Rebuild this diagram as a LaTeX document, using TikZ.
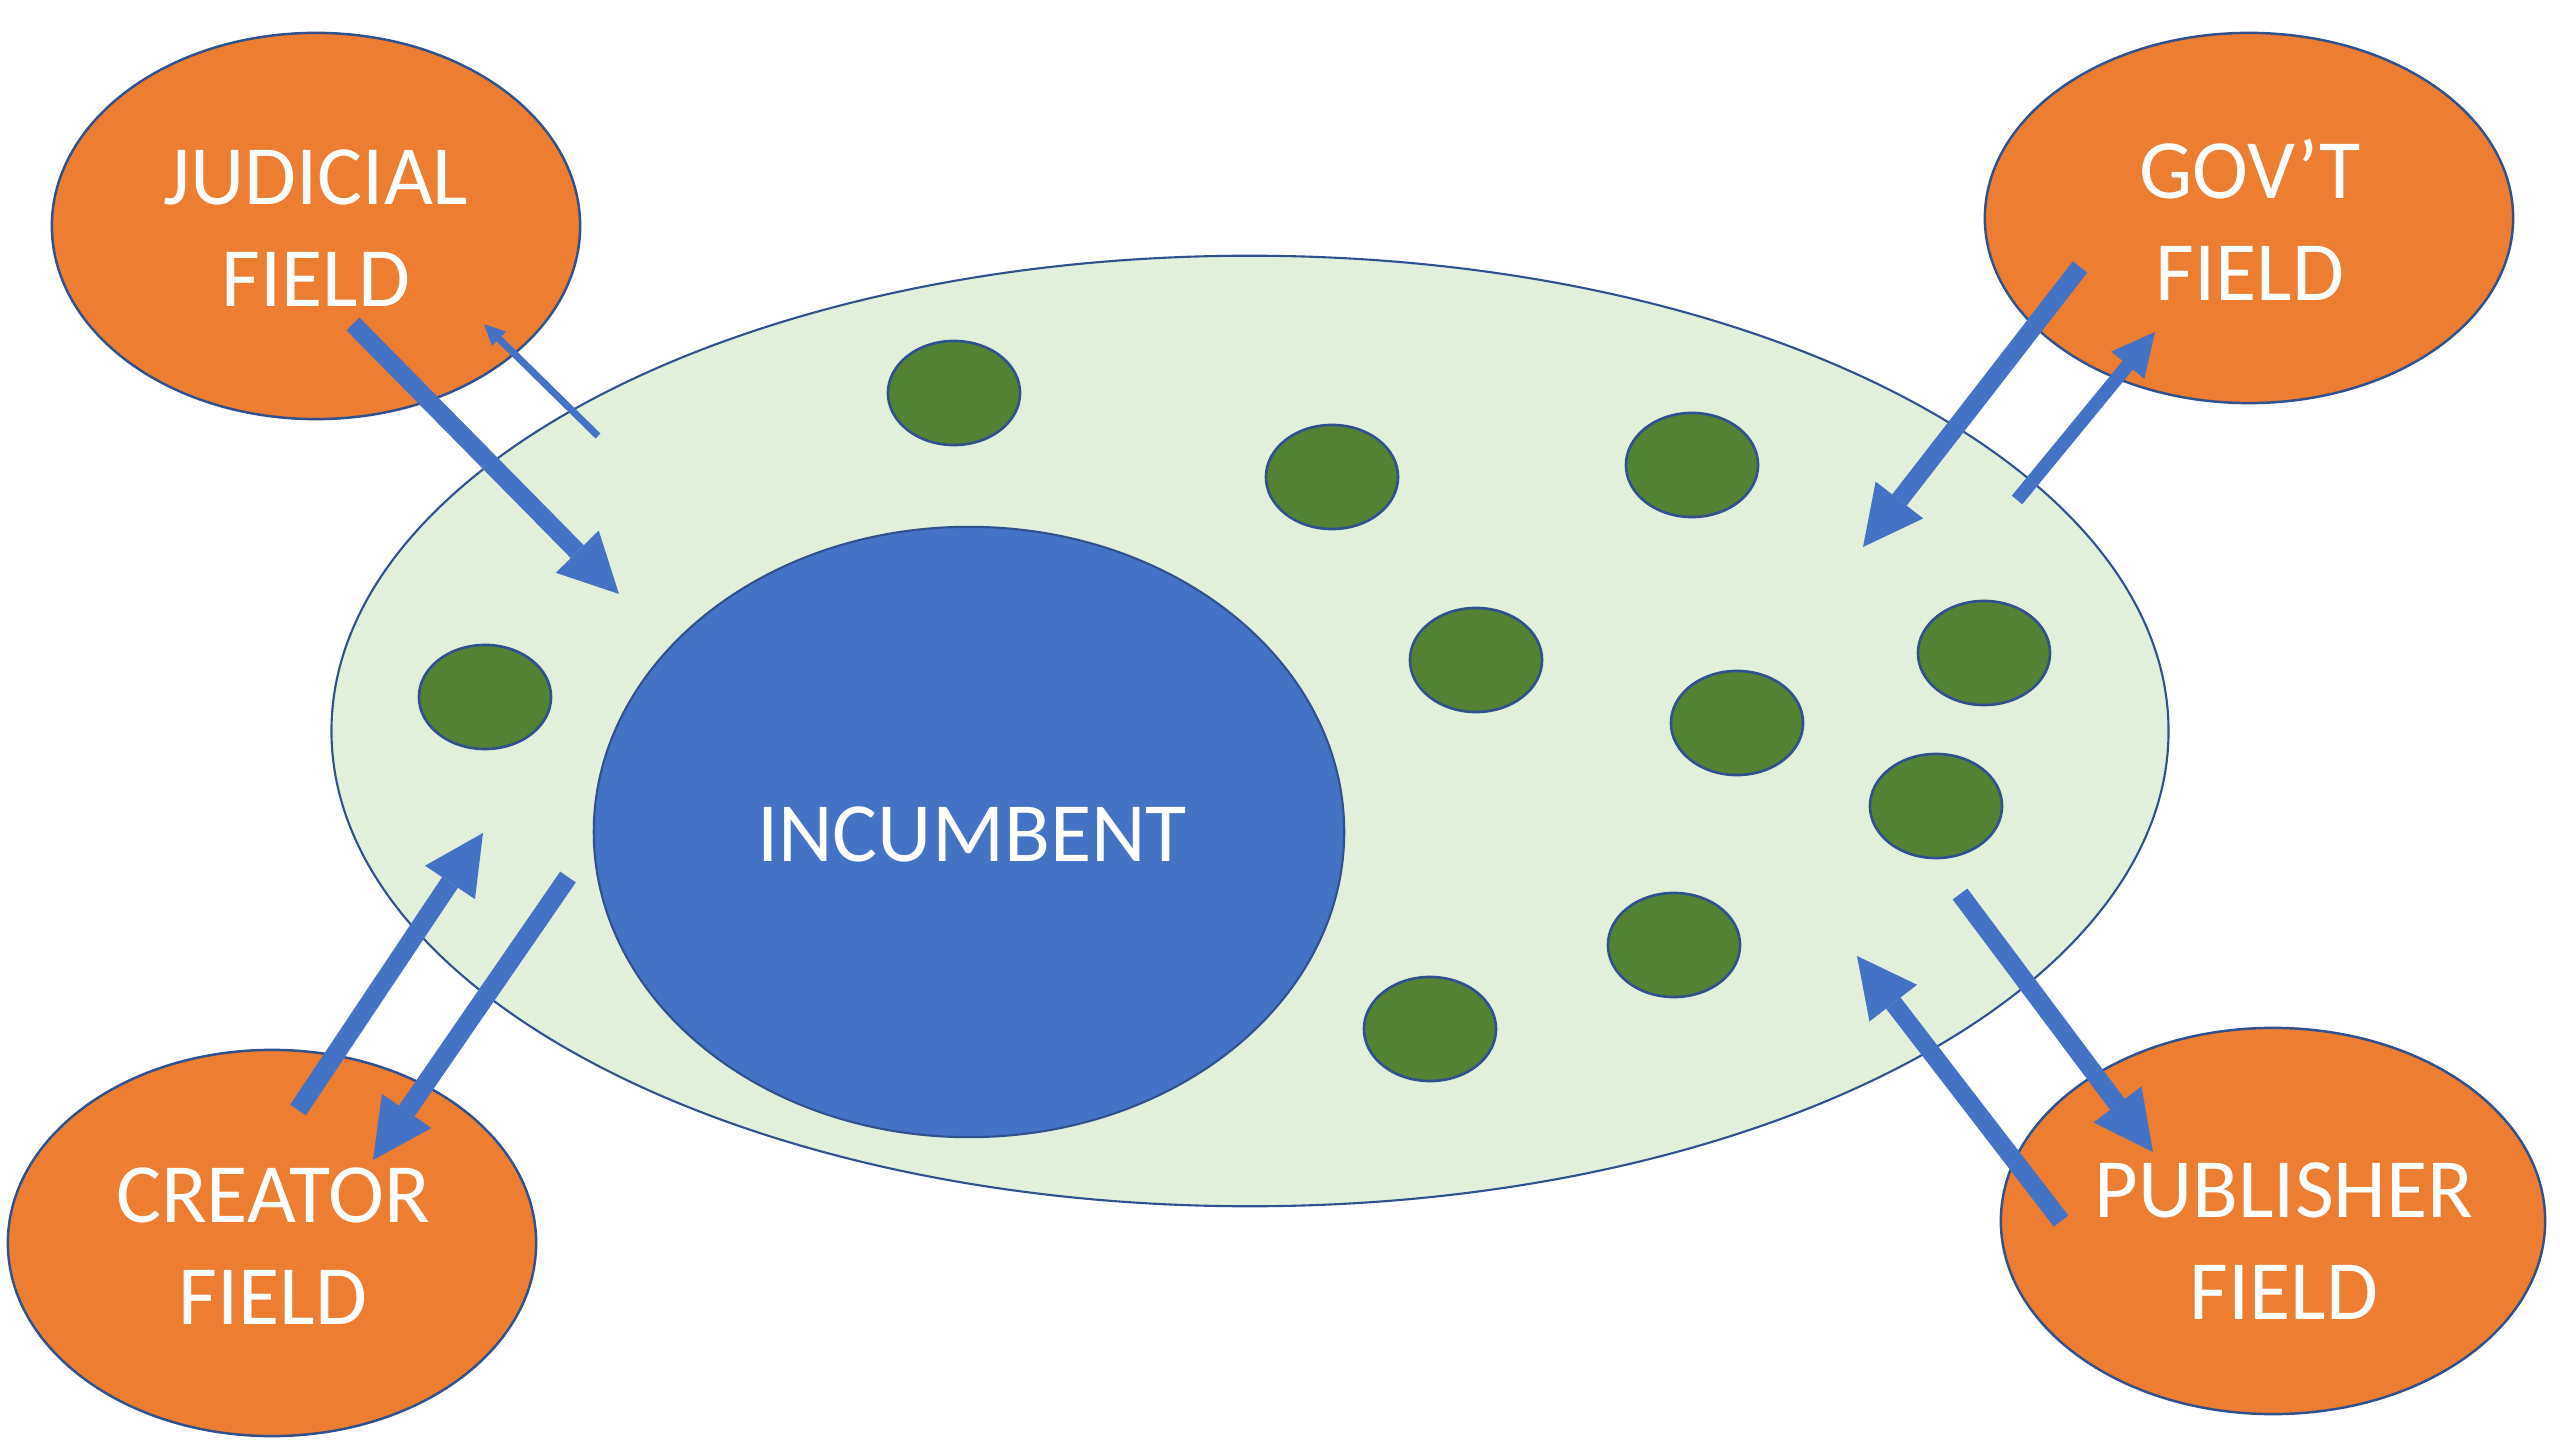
\documentclass[tikz,border=0pt]{standalone}
\usepackage{fontspec}
\setmainfont{Carlito}
\usetikzlibrary{shapes.geometric,arrows.meta}
\definecolor{fieldorange}{HTML}{ED7D31}
\definecolor{edgeblue}{HTML}{2F528F}
\definecolor{incblue}{HTML}{4472C4}
\definecolor{paleGreen}{HTML}{E2EFDA}
\definecolor{agentgreen}{HTML}{548235}
\begin{document}
\begin{tikzpicture}[x=0.01cm,y=-0.01cm,
  oval/.style={ellipse, draw=edgeblue, line width=0.7pt, inner sep=0pt, outer sep=0pt},
  outerfield/.style={oval, fill=fieldorange, minimum width=5.28cm, minimum height=3.86cm},
  agent/.style={oval, fill=agentgreen, line width=0.75pt, minimum width=1.32cm, minimum height=1.04cm},
  lbl/.style={text=white, align=center, inner sep=0pt, font=\fontsize{24pt}{29pt}\selectfont},
  flow/.style={incblue, line width=5.2pt, -{Triangle[width=17.1pt, length=16.9pt, line width=0pt]}},
  thinflow/.style={incblue, line width=2pt, -{Triangle[width=5.7pt, length=6pt, line width=0pt]}},
  midflow/.style={incblue, line width=3.85pt, -{Triangle[width=12.2pt, length=12.2pt, line width=0pt]}}
]
\useasboundingbox (0,0) rectangle (2560,1440);

% big field
\node[oval, fill=paleGreen, line width=0.6pt, minimum width=18.36cm, minimum height=9.5cm] (market) at (1250,731) {};

% small agents
\node[agent] (g1) at (954,393) {};
\node[agent] (g2) at (1332,477) {};
\node[agent] (g3) at (1692,465) {};
\node[agent] (g4) at (1476,660) {};
\node[agent] (g5) at (1737,723) {};
\node[agent] (g6) at (1984,653) {};
\node[agent] (g7) at (1936,806) {};
\node[agent] (g8) at (1674,945) {};
\node[agent] (g9) at (1430,1029) {};
\node[agent] (g10) at (485,697) {};

% incumbent
\node[oval, fill=incblue, line width=0.6pt, minimum width=7.5cm, minimum height=6.1cm] (inc) at (969,832) {};
\node[lbl] (inct) at (972,834) {INCUMBENT};

% outer fields
\node[outerfield] (jud) at (316,226) {};
\node[lbl] (judt) at (316,228) {JUDICIAL\\FIELD};
\node[outerfield, minimum height=3.7cm] (gov) at (2249,218) {};
\node[lbl] (govt) at (2250,220) {GOV’T\\FIELD};
\node[outerfield] (cre) at (272,1243) {};
\node[lbl] (cret) at (273,1246) {CREATOR\\FIELD};
\node[outerfield, minimum width=5.44cm] (pub) at (2273,1221) {};
\node[lbl] (pubt) at (2284,1241) {PUBLISHER\\FIELD};

% arrow end points
\coordinate (a1s) at (353,324);  \coordinate (a1e) at (619,594);
\coordinate (a2s) at (598,436);  \coordinate (a2e) at (484,324);
\coordinate (a3s) at (2080,267); \coordinate (a3e) at (1863,547);
\coordinate (a4s) at (2017,500); \coordinate (a4e) at (2155,332);
\coordinate (a5s) at (298,1110); \coordinate (a5e) at (483,833);
\coordinate (a6s) at (568,877);  \coordinate (a6e) at (373,1160);
\coordinate (a7s) at (1960,894); \coordinate (a7e) at (2153,1152);
\coordinate (a8s) at (2061,1221);\coordinate (a8e) at (1857,956);

\draw[flow] (a1s) -- (a1e);
\draw[thinflow] (a2s) -- (a2e);
\draw[flow] (a3s) -- (a3e);
\draw[midflow] (a4s) -- (a4e);
\draw[flow, line width=5.4pt] (a5s) -- (a5e);
\draw[flow, line width=5.4pt] (a6s) -- (a6e);
\draw[flow] (a7s) -- (a7e);
\draw[flow] (a8s) -- (a8e);
\end{tikzpicture}
\end{document}
